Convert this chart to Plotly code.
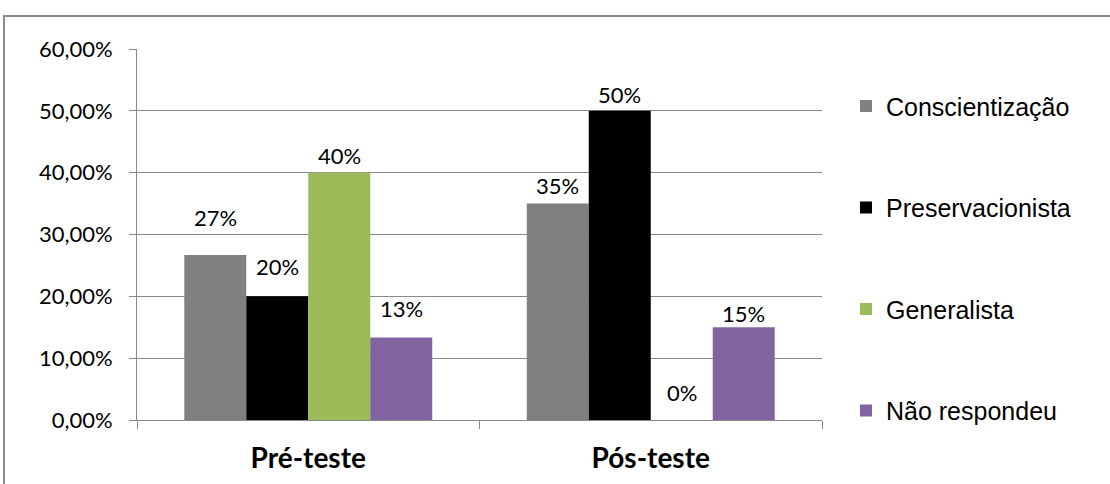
import plotly.graph_objects as go

categories = ["Pré-teste", "Pós-teste"]
series_names = ["Conscientização", "Preservacionista", "Generalista", "Não respondeu"]
conscientizacao = [0.2667, 0.35]
preservacionista = [0.20, 0.50]
generalista = [0.40, 0.0]
nao_respondeu = [0.1333, 0.15]
series_values = [conscientizacao, preservacionista, generalista, nao_respondeu]
colors = ["#808080", "#000000", "#9BBB59", "#8064A2"]
y_ticks = [0, 0.1, 0.2, 0.3, 0.4, 0.5, 0.6]
# vertical pixel offsets of the data labels above their bars (style)
label_yshift = [[22, 14, 2, 14], [3, 1, 12, -2]]

W, H = 1110, 484
ML, MR, MT, MB = 137, 288, 49, 64
BARGAP = 0.276

fig = go.Figure()
for name, vals, col in zip(series_names, series_values, colors):
    fig.add_trace(go.Bar(
        x=categories, y=vals, name=name, marker=dict(color=col, line=dict(width=0)),
        legendgroup=name,
    ))

# data labels, placed at each bar's centre through the category axis
nser = len(series_names)
bw = (1 - BARGAP) / nser
for i, (name, vals) in enumerate(zip(series_names, series_values)):
    for j, v in enumerate(vals):
        xc = j - (1 - BARGAP) / 2 + bw * (i + 0.5)
        fig.add_annotation(x=xc, y=v, xref="x", yref="y", text=f"{v:.0%}",
                           showarrow=False, yanchor="bottom", xanchor="center",
                           yshift=label_yshift[j][i],
                           font=dict(family="Lato, Open Sans, sans-serif", size=22, color="#000000"))

pw = W - ML - MR
ph = H - MT - MB
# outer chart border
fig.add_shape(type="rect", xref="paper", yref="paper",
              x0=(4 - ML) / pw, x1=(W + 10 - ML) / pw,
              y0=-(H + 10 - MT - ph) / ph, y1=(H - MB - 16) / ph,
              line=dict(color="#8a8a8a", width=2), fillcolor="rgba(0,0,0,0)", layer="below")

fig.update_layout(
    width=W, height=H, margin=dict(l=ML, r=MR, t=MT, b=MB, autoexpand=False),
    paper_bgcolor="white", plot_bgcolor="white",
    barmode="group", bargap=BARGAP, bargroupgap=0,
    separators=",.",
    font=dict(family="Lato, Open Sans, sans-serif", color="#000000"),
    showlegend=True,
    legend=dict(x=1.035, xanchor="left", y=0.908, yanchor="top",
                font=dict(family="Liberation Sans, Arial, sans-serif", size=25, color="#000000"),
                tracegroupgap=66, itemsizing="constant", itemwidth=30,
                bgcolor="rgba(0,0,0,0)"),
    xaxis=dict(type="category", showline=True, linecolor="#8a8a8a", linewidth=1,
               ticks="outside", tickson="boundaries", ticklen=8, tickcolor="#8a8a8a",
               tickfont=dict(family="Lato, Open Sans, sans-serif", size=28, color="#000000", weight="bold"),
               ticklabelstandoff=13, showgrid=False, range=[-0.5, 1.5], automargin=False),
    yaxis=dict(range=[0, 0.6], tickvals=y_ticks, tickformat=".2%",
               showline=True, linecolor="#8a8a8a", linewidth=1,
               ticks="outside", ticklen=7, tickcolor="#8a8a8a",
               showgrid=True, gridcolor="#8a8a8a", gridwidth=1,
               tickfont=dict(family="Lato, Open Sans, sans-serif", size=22, color="#000000"),
               ticklabelstandoff=12, zeroline=False, automargin=False),
)

fig.write_html("out.html", config={"displayModeBar": False},
               post_script="document.body.style.margin='0';")
